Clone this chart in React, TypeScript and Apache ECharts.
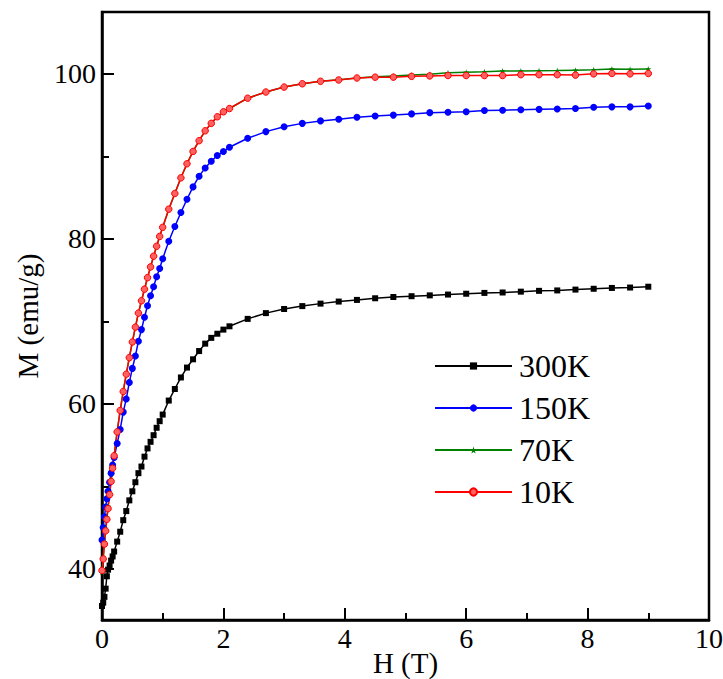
import React, { useEffect, useRef } from "react";
import * as echarts from "echarts";

const fieldH = [
  0, 0.02, 0.04, 0.06, 0.08, 0.1, 0.125, 0.15, 0.175, 0.2, 0.25, 0.3, 0.35, 0.4, 0.45,
  0.5, 0.55, 0.6, 0.65, 0.7, 0.75, 0.8, 0.85, 0.9, 0.95, 1.0, 1.1, 1.2, 1.3, 1.4, 1.5,
  1.6, 1.7, 1.8, 1.9, 2.0, 2.1, 2.4, 2.7, 3.0, 3.3, 3.6, 3.9, 4.2, 4.5, 4.8, 5.1, 5.4,
  5.7, 6.0, 6.3, 6.6, 6.9, 7.2, 7.5, 7.8, 8.1, 8.4, 8.7, 9.0,
];

const m300K = [
  35.5, 35.9, 36.6, 37.6, 39.1, 39.9, 40.4, 41.0, 41.5, 42.1, 43.3, 44.5, 45.9, 47.0, 48.3,
  49.4, 50.5, 51.6, 52.4, 53.6, 54.6, 55.4, 56.2, 57.1, 57.9, 58.7, 60.4, 61.8, 63.2, 64.4,
  65.4, 66.4, 67.3, 68.0, 68.5, 69.0, 69.4, 70.3, 71.0, 71.5, 71.85, 72.15, 72.4, 72.6, 72.8,
  72.95, 73.05, 73.15, 73.25, 73.35, 73.45, 73.5, 73.6, 73.7, 73.75, 73.85, 73.95, 74.05, 74.1,
  74.2,
];

const m150K = [
  43.5, 45.0, 46.3, 47.5, 48.5, 49.4, 50.5, 51.6, 52.6, 53.5, 55.2, 56.9, 59.0, 60.6, 62.6,
  64.3, 65.8, 67.6, 69.0, 70.5, 71.9, 73.1, 74.2, 75.4, 76.4, 77.6, 79.7, 81.5, 83.2, 84.8,
  86.3, 87.6, 88.6, 89.4, 90.1, 90.6, 91.1, 92.2, 93.0, 93.6, 94.0, 94.3, 94.5, 94.75, 94.9,
  95.0, 95.15, 95.3, 95.35, 95.4, 95.55, 95.6, 95.65, 95.7, 95.75, 95.8, 95.95, 96.0, 96.0,
  96.1,
];

const m70K = [
  39.6, 41.4, 43.3, 44.9, 46.3, 47.6, 49.2, 50.8, 52.4, 53.8, 56.7, 59.2, 61.5, 63.6, 65.6,
  67.5, 69.3, 71.0, 72.5, 73.9, 75.3, 76.6, 77.9, 79.1, 80.3, 81.4, 83.6, 85.5, 87.4, 89.1,
  90.6, 91.9, 93.1, 94.0, 94.8, 95.4, 95.8, 97.05, 97.8, 98.4, 98.8, 99.1, 99.3, 99.5, 99.65,
  99.75, 99.85, 99.95, 100.15, 100.2, 100.25, 100.35, 100.36, 100.38, 100.4, 100.45, 100.5,
  100.6, 100.55, 100.6,
];

const m10K = [
  39.8, 41.2, 43.0, 44.6, 46.0, 47.3, 49.0, 50.6, 52.2, 53.7, 56.6, 59.2, 61.5, 63.6, 65.6,
  67.5, 69.3, 71.0, 72.5, 73.9, 75.3, 76.6, 77.9, 79.1, 80.3, 81.4, 83.6, 85.5, 87.4, 89.1,
  90.6, 91.9, 93.1, 94.0, 94.8, 95.4, 95.8, 97.05, 97.8, 98.4, 98.8, 99.1, 99.26, 99.5, 99.6,
  99.6, 99.7, 99.75, 99.8, 99.8, 99.8, 99.8, 99.9, 99.9, 99.9, 99.85, 100.0, 100.05, 100.0,
  100.05,
];

const seriesNames = ["300K", "150K", "70K", "10K"];
const xTickLabels = [0, 2, 4, 6, 8, 10];
const yLabelValues = [40, 60, 80, 100];
const yMinorValues = [50, 70, 90];

const FONT = "Liberation Serif";
const STAR =
  "path://M50,0 L61,35 L98,35 L68,57 L79,91 L50,70 L21,91 L32,57 L2,35 L39,35 Z";

function pairs(ms: number[]) {
  return fieldH.map((h, i) => [h, ms[i]]);
}

export default function App() {
  const ref = useRef<HTMLDivElement>(null);
  useEffect(() => {
    if (!ref.current) return;
    const chart = echarts.init(ref.current, undefined, { renderer: "svg" });
    const mk = (
      name: string,
      data: number[],
      color: string,
      symbol: string,
      size: number,
      fill?: string
    ) => ({
      name,
      type: "line",
      data: pairs(data),
      symbol,
      symbolSize: size,
      showSymbol: true,
      lineStyle: { color, width: 1.5 },
      itemStyle: { color: fill ?? color, borderColor: color, borderWidth: fill ? 1 : 0 },
      emphasis: { disabled: true },
      z: 2,
    });
    chart.setOption({
      animation: false,
      backgroundColor: "#fff",
      textStyle: { fontFamily: FONT, color: "#000" },
      grid: {
        left: 102,
        right: 14,
        top: 12,
        bottom: 59,
        containLabel: false,
        outerBoundsMode: "none",
        show: true,
        borderColor: "#000",
        borderWidth: 2.5,
        backgroundColor: "transparent",
      },
      legend: {
        orient: "vertical",
        left: 434,
        top: 350,
        padding: 0,
        itemWidth: 77,
        itemHeight: 9,
        itemGap: 10,
        data: seriesNames,
        textStyle: { fontFamily: FONT, fontSize: 32, color: "#000", padding: [0, 0, 0, 2] },
        selectedMode: false,
      },
      xAxis: {
        type: "value",
        min: 0,
        max: 10,
        interval: 2,
        name: "H (T)",
        nameLocation: "middle",
        nameGap: 28,
        nameMoveOverlap: false,
        nameTextStyle: { fontFamily: FONT, fontSize: 29, color: "#000", verticalAlign: "top" },
        axisLine: { show: true, lineStyle: { color: "#000", width: 2.5 } },
        axisTick: { show: true, inside: true, length: 12, lineStyle: { color: "#000", width: 2 } },
        minorTick: { show: true, splitNumber: 2, length: 7, lineStyle: { color: "#000", width: 2 } },
        axisLabel: {
          fontFamily: FONT,
          fontSize: 28,
          color: "#000",
          margin: 4,
          customValues: xTickLabels,
        },
        splitLine: { show: false },
      },
      yAxis: [
        {
          type: "value",
          min: 33.8,
          max: 107.5,
          name: "M (emu/g)",
          nameLocation: "middle",
          nameGap: 60,
          nameMoveOverlap: false,
          nameTextStyle: { fontFamily: FONT, fontSize: 29, color: "#000" },
          axisLine: { show: true, lineStyle: { color: "#000", width: 2.5 } },
          axisTick: {
            show: true,
            inside: true,
            length: 12,
            customValues: yLabelValues,
            lineStyle: { color: "#000", width: 2 },
          },
          axisLabel: {
            fontFamily: FONT,
            fontSize: 28,
            color: "#000",
            margin: 6,
            customValues: yLabelValues,
          },
          splitLine: { show: false },
        },
        {
          type: "value",
          min: 33.8,
          max: 107.5,
          position: "left",
          axisLine: { show: false },
          axisTick: {
            show: true,
            inside: true,
            length: 7,
            customValues: yMinorValues,
            lineStyle: { color: "#000", width: 2 },
          },
          axisLabel: { show: false },
          splitLine: { show: false },
        },
      ],
      series: [
        mk(seriesNames[0], m300K, "#000000", "rect", 6),
        mk(seriesNames[1], m150K, "#0000ff", "circle", 7),
        mk(seriesNames[2], m70K, "#008000", STAR, 6),
        mk(seriesNames[3], m10K, "#ff0000", "circle", 6.5, "#ff6060"),
      ],
    });
    return () => chart.dispose();
  }, []);
  return (
    <div
      ref={ref}
      style={{ position: "absolute", left: 0, top: 0, width: 723, height: 679 }}
    />
  );
}
